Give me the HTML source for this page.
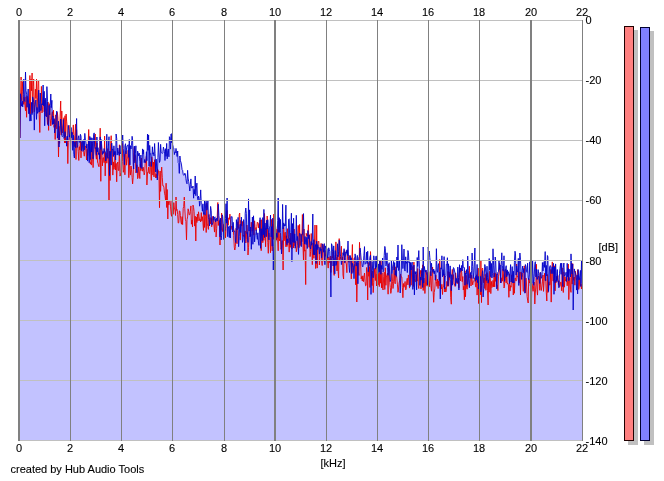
<!DOCTYPE html><html><head><meta charset="utf-8"><style>html,body{margin:0;padding:0;background:#fff;width:664px;height:481px;overflow:hidden}svg{display:block}</style></head><body><svg width="664" height="481" viewBox="0 0 664 481"><polygon points="19.5,441 19.5,138.0 20.0,138.0 20.5,93.8 21.1,99.8 21.6,106.2 22.2,101.1 22.7,106.9 23.3,94.6 23.8,79.1 24.4,100.3 24.9,101.6 25.5,72.0 26.0,90.7 26.6,94.3 27.1,107.3 27.7,97.0 28.2,89.0 28.8,113.7 29.3,103.7 29.9,121.1 30.4,114.2 31.0,120.9 31.5,102.4 32.1,114.6 32.6,96.9 33.2,98.4 33.7,102.7 34.3,130.1 34.8,107.2 35.4,101.7 35.9,100.1 36.5,119.4 37.0,107.4 37.6,113.4 38.1,111.7 38.7,90.1 39.2,112.1 39.8,103.3 40.3,93.0 40.9,110.7 41.4,105.7 42.0,103.7 42.5,104.8 43.1,85.0 43.6,105.7 44.2,91.3 44.7,125.8 45.3,98.2 45.8,107.4 46.4,116.9 46.9,86.6 47.5,101.6 48.0,125.0 48.6,126.0 49.1,105.4 49.7,114.9 50.2,105.4 50.8,94.0 51.3,107.7 51.9,100.3 52.4,124.5 53.0,115.9 53.5,123.9 54.1,118.6 54.6,133.0 55.2,127.7 55.7,124.7 56.3,115.0 56.8,111.0 57.4,138.1 57.9,134.0 58.5,121.2 59.0,147.0 59.6,133.5 60.1,130.9 60.7,119.0 61.2,125.2 61.8,135.7 62.3,136.7 62.9,135.9 63.4,119.5 63.9,138.3 64.5,137.5 65.0,131.7 65.6,136.4 66.1,137.3 66.7,146.2 67.2,136.0 67.8,140.3 68.3,125.3 68.9,130.4 69.4,137.0 70.0,134.7 70.5,140.4 71.1,127.5 71.6,137.7 72.2,132.4 72.7,150.3 73.3,135.0 73.8,154.5 74.4,158.0 74.9,141.9 75.5,147.6 76.0,137.8 76.6,118.5 77.1,147.5 77.7,145.7 78.2,138.2 78.8,135.7 79.3,142.1 79.9,142.5 80.4,134.3 81.0,136.2 81.5,150.7 82.1,142.1 82.6,141.2 83.2,151.4 83.7,139.5 84.3,149.9 84.8,133.4 85.4,140.7 85.9,141.8 86.5,148.2 87.0,144.1 87.6,161.1 88.1,153.5 88.7,140.3 89.2,162.7 89.8,136.4 90.3,159.6 90.9,137.6 91.4,152.1 92.0,137.9 92.5,143.8 93.1,158.9 93.6,134.3 94.2,132.9 94.7,146.5 95.3,148.5 95.8,147.7 96.4,155.2 96.9,137.0 97.5,151.8 98.0,147.7 98.6,154.5 99.1,153.2 99.7,159.2 100.2,136.9 100.8,149.5 101.3,139.6 101.9,148.1 102.4,154.5 103.0,151.3 103.5,153.4 104.1,148.5 104.6,151.9 105.2,151.4 105.7,161.0 106.3,156.0 106.8,134.2 107.3,154.9 107.9,158.4 108.4,146.1 109.0,136.7 109.5,175.6 110.1,151.2 110.6,155.0 111.2,165.1 111.7,143.0 112.3,149.8 112.8,149.1 113.4,156.5 113.9,145.8 114.5,154.7 115.0,151.3 115.6,160.0 116.1,134.0 116.7,138.5 117.2,155.1 117.8,148.0 118.3,151.1 118.9,154.9 119.4,155.6 120.0,145.5 120.5,154.0 121.1,152.8 121.6,151.3 122.2,141.1 122.7,135.0 123.3,148.5 123.8,157.2 124.4,164.7 124.9,146.0 125.5,143.7 126.0,153.9 126.6,147.8 127.1,145.7 127.7,145.4 128.2,144.7 128.8,157.4 129.3,139.5 129.9,164.9 130.4,145.6 131.0,149.0 131.5,145.5 132.1,136.3 132.6,139.9 133.2,164.0 133.7,169.0 134.3,146.0 134.8,162.8 135.4,153.6 135.9,145.8 136.5,168.6 137.0,172.8 137.6,151.1 138.1,153.1 138.7,155.8 139.2,153.1 139.8,161.4 140.3,167.4 140.9,155.0 141.4,167.7 142.0,168.6 142.5,148.9 143.1,154.1 143.6,149.8 144.2,162.6 144.7,159.5 145.3,162.7 145.8,161.6 146.4,151.7 146.9,160.7 147.5,134.0 148.0,150.4 148.6,134.9 149.1,166.3 149.7,145.4 150.2,154.3 150.7,153.6 151.3,166.5 151.8,157.5 152.4,146.8 152.9,154.1 153.5,152.7 154.0,155.9 154.6,143.5 155.1,153.5 155.7,171.9 156.2,159.1 156.8,169.6 157.3,180.0 157.9,157.6 158.4,142.5 159.0,152.8 159.5,162.5 160.1,160.6 160.6,144.3 161.2,151.9 161.7,152.7 162.3,153.5 162.8,152.8 163.4,147.1 163.9,149.0 164.5,151.4 165.0,160.5 165.6,148.7 166.1,156.4 166.7,143.4 167.2,158.9 167.8,150.5 168.3,149.0 168.9,156.8 169.4,136.7 170.0,137.9 170.5,149.1 171.1,134.0 171.6,142.7 172.2,133.0 172.7,144.7 173.3,147.5 173.8,148.0 174.4,154.6 174.9,151.9 175.5,152.6 176.0,148.4 176.6,153.4 177.1,156.5 177.7,151.0 178.2,162.7 178.8,163.7 179.3,173.4 179.9,156.0 180.4,160.8 181.0,162.3 181.5,165.0 182.1,169.6 182.6,170.2 183.2,174.3 183.7,175.3 184.3,175.0 184.8,173.2 185.4,174.1 185.9,178.6 186.5,182.7 187.0,183.8 187.6,170.3 188.1,178.1 188.7,181.7 189.2,185.2 189.8,191.0 190.3,184.7 190.9,178.9 191.4,187.9 192.0,187.3 192.5,187.8 193.0,186.0 193.6,198.2 194.1,189.4 194.7,194.1 195.2,176.0 195.8,195.7 196.3,188.0 196.9,183.1 197.4,196.7 198.0,199.9 198.5,196.1 199.1,198.7 199.6,206.2 200.2,198.5 200.7,189.9 201.3,204.6 201.8,205.2 202.4,211.2 202.9,203.8 203.5,214.2 204.0,214.2 204.6,200.5 205.1,214.8 205.7,203.3 206.2,201.2 206.8,210.2 207.3,209.1 207.9,200.4 208.4,217.5 209.0,219.5 209.5,225.9 210.1,216.7 210.6,206.4 211.2,210.4 211.7,224.9 212.3,224.6 212.8,222.2 213.4,216.2 213.9,220.4 214.5,217.3 215.0,216.8 215.6,222.0 216.1,220.1 216.7,218.2 217.2,221.0 217.8,216.1 218.3,204.2 218.9,215.7 219.4,220.7 220.0,236.9 220.5,218.2 221.1,240.0 221.6,235.4 222.2,214.8 222.7,216.5 223.3,224.7 223.8,239.5 224.4,227.3 224.9,230.5 225.5,218.6 226.0,203.7 226.6,223.1 227.1,198.0 227.7,236.7 228.2,226.5 228.8,228.0 229.3,237.5 229.9,225.8 230.4,238.0 231.0,216.5 231.5,216.9 232.1,216.7 232.6,232.0 233.2,222.3 233.7,228.8 234.3,231.5 234.8,231.1 235.4,241.0 235.9,242.7 236.4,219.6 237.0,229.9 237.5,225.7 238.1,217.4 238.6,246.7 239.2,236.7 239.7,226.4 240.3,224.1 240.8,232.6 241.4,217.1 241.9,226.2 242.5,242.4 243.0,239.3 243.6,219.6 244.1,223.5 244.7,251.0 245.2,213.3 245.8,208.0 246.3,213.2 246.9,233.5 247.4,232.5 248.0,242.4 248.5,198.9 249.1,231.1 249.6,209.9 250.2,236.8 250.7,227.0 251.3,249.3 251.8,233.7 252.4,217.0 252.9,244.3 253.5,215.8 254.0,227.7 254.6,241.9 255.1,235.2 255.7,234.7 256.2,229.6 256.8,235.7 257.3,239.4 257.9,232.8 258.4,242.0 259.0,245.4 259.5,229.6 260.1,217.7 260.6,248.3 261.2,228.7 261.7,236.8 262.3,240.7 262.8,217.6 263.4,234.6 263.9,209.4 264.5,237.6 265.0,223.0 265.6,230.4 266.1,236.7 266.7,220.2 267.2,229.1 267.8,219.7 268.3,227.5 268.9,239.9 269.4,227.9 270.0,225.9 270.5,215.0 271.1,237.0 271.6,226.6 272.2,246.2 272.7,218.2 273.3,270.0 273.8,246.6 274.4,226.1 274.9,212.5 275.5,242.7 276.0,237.5 276.6,233.3 277.1,237.5 277.7,220.3 278.2,198.0 278.8,232.4 279.3,217.7 279.8,232.4 280.4,219.4 280.9,235.2 281.5,253.9 282.0,245.4 282.6,204.4 283.1,229.0 283.7,222.9 284.2,226.3 284.8,224.4 285.3,225.8 285.9,205.1 286.4,238.6 287.0,244.8 287.5,238.8 288.1,242.8 288.6,219.4 289.2,218.8 289.7,239.3 290.3,244.5 290.8,232.9 291.4,213.2 291.9,261.6 292.5,223.6 293.0,242.2 293.6,218.2 294.1,242.8 294.7,233.9 295.2,248.2 295.8,242.4 296.3,215.3 296.9,240.7 297.4,236.5 298.0,242.2 298.5,254.4 299.1,237.2 299.6,233.2 300.2,234.1 300.7,234.5 301.3,246.7 301.8,234.7 302.4,234.7 302.9,228.9 303.5,213.6 304.0,236.7 304.6,244.1 305.1,236.5 305.7,242.9 306.2,244.6 306.8,237.3 307.3,248.5 307.9,230.5 308.4,238.6 309.0,235.0 309.5,240.1 310.1,246.3 310.6,249.0 311.2,241.5 311.7,245.2 312.3,237.0 312.8,214.0 313.4,254.7 313.9,239.7 314.5,254.9 315.0,247.5 315.6,244.5 316.1,263.5 316.7,241.2 317.2,249.7 317.8,244.6 318.3,247.7 318.9,247.6 319.4,254.1 320.0,247.3 320.5,250.5 321.1,248.9 321.6,257.8 322.2,243.8 322.7,245.4 323.2,248.8 323.8,252.3 324.3,243.6 324.9,264.7 325.4,245.9 326.0,248.5 326.5,248.8 327.1,248.7 327.6,258.1 328.2,255.2 328.7,247.8 329.3,249.5 329.8,251.4 330.4,265.7 330.9,297.0 331.5,243.7 332.0,245.1 332.6,251.5 333.1,266.0 333.7,245.9 334.2,254.7 334.8,273.9 335.3,250.6 335.9,265.5 336.4,264.0 337.0,258.8 337.5,243.8 338.1,256.8 338.6,251.8 339.2,240.3 339.7,241.6 340.3,255.0 340.8,256.4 341.4,264.6 341.9,260.6 342.5,260.9 343.0,252.7 343.6,255.3 344.1,248.7 344.7,262.8 345.2,257.6 345.8,251.8 346.3,253.3 346.9,249.8 347.4,255.4 348.0,241.0 348.5,256.3 349.1,267.2 349.6,272.5 350.2,255.5 350.7,260.6 351.3,257.8 351.8,273.7 352.4,263.3 352.9,265.3 353.5,267.5 354.0,278.7 354.6,263.6 355.1,253.9 355.7,258.1 356.2,266.1 356.8,261.5 357.3,255.4 357.9,283.8 358.4,262.7 359.0,257.4 359.5,256.4 360.1,248.1 360.6,252.8 361.2,259.7 361.7,259.9 362.3,266.3 362.8,267.0 363.4,263.0 363.9,255.3 364.5,246.6 365.0,264.3 365.6,263.5 366.1,261.6 366.6,252.1 367.2,263.7 367.7,251.2 368.3,271.8 368.8,265.3 369.4,265.6 369.9,257.3 370.5,255.2 371.0,294.4 371.6,272.2 372.1,261.5 372.7,270.2 373.2,277.8 373.8,255.8 374.3,260.6 374.9,261.5 375.4,269.2 376.0,256.2 376.5,267.4 377.1,255.8 377.6,273.6 378.2,273.2 378.7,263.9 379.3,272.1 379.8,260.0 380.4,263.7 380.9,274.3 381.5,265.5 382.0,269.3 382.6,258.0 383.1,271.9 383.7,270.2 384.2,255.5 384.8,246.4 385.3,248.5 385.9,265.9 386.4,264.5 387.0,252.8 387.5,267.7 388.1,275.3 388.6,265.6 389.2,262.6 389.7,274.1 390.3,281.5 390.8,279.7 391.4,260.8 391.9,273.7 392.5,268.2 393.0,265.0 393.6,261.4 394.1,270.0 394.7,262.6 395.2,275.1 395.8,270.4 396.3,276.4 396.9,257.0 397.4,267.5 398.0,245.0 398.5,270.5 399.1,269.4 399.6,261.1 400.2,293.0 400.7,276.9 401.3,270.9 401.8,244.7 402.4,258.9 402.9,268.6 403.5,261.2 404.0,249.0 404.6,269.9 405.1,271.1 405.7,256.8 406.2,263.4 406.8,261.8 407.3,272.6 407.9,250.5 408.4,252.4 409.0,262.9 409.5,261.9 410.0,286.6 410.6,262.4 411.1,270.0 411.7,264.3 412.2,262.1 412.8,289.4 413.3,283.9 413.9,265.1 414.4,294.9 415.0,271.5 415.5,274.1 416.1,271.7 416.6,289.8 417.2,257.5 417.7,266.4 418.3,258.5 418.8,250.6 419.4,268.6 419.9,285.4 420.5,277.1 421.0,280.1 421.6,273.6 422.1,268.3 422.7,287.5 423.2,247.0 423.8,283.1 424.3,266.4 424.9,270.2 425.4,272.1 426.0,270.0 426.5,274.3 427.1,275.0 427.6,285.0 428.2,247.0 428.7,252.4 429.3,251.1 429.8,257.3 430.4,263.0 430.9,275.9 431.5,263.2 432.0,270.2 432.6,270.4 433.1,272.5 433.7,269.0 434.2,273.9 434.8,270.7 435.3,280.1 435.9,273.5 436.4,248.7 437.0,270.7 437.5,272.3 438.1,265.2 438.6,263.6 439.2,280.6 439.7,272.2 440.3,299.0 440.8,267.8 441.4,269.2 441.9,255.8 442.5,276.8 443.0,269.7 443.6,275.4 444.1,256.6 444.7,289.0 445.2,277.0 445.8,275.7 446.3,264.5 446.9,265.1 447.4,257.7 448.0,285.7 448.5,263.8 449.1,273.7 449.6,277.3 450.2,265.9 450.7,279.7 451.3,290.7 451.8,274.6 452.3,285.2 452.9,277.2 453.4,267.6 454.0,268.2 454.5,271.0 455.1,273.0 455.6,285.7 456.2,278.3 456.7,279.9 457.3,282.7 457.8,267.1 458.4,277.4 458.9,290.0 459.5,264.7 460.0,272.4 460.6,268.0 461.1,270.3 461.7,265.4 462.2,271.0 462.8,259.7 463.3,267.4 463.9,267.7 464.4,267.6 465.0,285.2 465.5,273.0 466.1,273.9 466.6,269.6 467.2,284.4 467.7,256.1 468.3,270.6 468.8,283.0 469.4,287.7 469.9,274.3 470.5,272.5 471.0,278.4 471.6,270.8 472.1,253.0 472.7,266.5 473.2,278.6 473.8,272.1 474.3,262.5 474.9,248.0 475.4,281.3 476.0,276.2 476.5,279.7 477.1,264.4 477.6,282.7 478.2,276.4 478.7,289.0 479.3,281.1 479.8,281.0 480.4,276.4 480.9,291.8 481.5,285.6 482.0,275.9 482.6,270.6 483.1,297.0 483.7,288.8 484.2,276.4 484.8,264.5 485.3,266.8 485.9,272.8 486.4,280.5 487.0,266.2 487.5,277.6 488.1,283.2 488.6,279.8 489.2,258.5 489.7,270.1 490.3,261.3 490.8,276.8 491.4,263.4 491.9,278.0 492.5,273.8 493.0,248.8 493.6,265.1 494.1,277.1 494.7,273.2 495.2,257.0 495.7,261.0 496.3,277.0 496.8,288.9 497.4,275.1 497.9,272.3 498.5,271.5 499.0,260.1 499.6,269.5 500.1,264.9 500.7,283.0 501.2,264.4 501.8,252.8 502.3,265.3 502.9,270.2 503.4,271.2 504.0,255.8 504.5,281.4 505.1,273.7 505.6,268.4 506.2,265.7 506.7,276.9 507.3,269.9 507.8,275.4 508.4,271.7 508.9,274.1 509.5,283.6 510.0,273.0 510.6,264.6 511.1,282.0 511.7,275.2 512.2,266.6 512.8,283.0 513.3,271.2 513.9,283.0 514.4,262.3 515.0,251.2 515.5,253.9 516.1,275.1 516.6,266.0 517.2,271.9 517.7,272.0 518.3,258.4 518.8,285.5 519.4,263.0 519.9,253.0 520.5,259.7 521.0,271.2 521.6,279.4 522.1,270.4 522.7,266.0 523.2,272.7 523.8,268.4 524.3,277.9 524.9,293.2 525.4,264.5 526.0,266.4 526.5,271.6 527.1,272.4 527.6,263.2 528.2,277.3 528.7,279.7 529.3,274.8 529.8,261.8 530.4,286.1 530.9,261.7 531.5,279.0 532.0,283.4 532.6,261.1 533.1,273.9 533.7,285.3 534.2,276.4 534.8,264.2 535.3,261.7 535.9,277.0 536.4,269.2 537.0,279.5 537.5,279.1 538.1,269.6 538.6,273.3 539.1,278.1 539.7,283.5 540.2,272.4 540.8,272.7 541.3,278.3 541.9,277.0 542.4,262.5 543.0,271.0 543.5,264.6 544.1,261.6 544.6,267.4 545.2,251.6 545.7,280.8 546.3,265.4 546.8,276.0 547.4,255.5 547.9,256.9 548.5,291.5 549.0,282.2 549.6,266.7 550.1,265.5 550.7,266.0 551.2,273.7 551.8,268.7 552.3,266.8 552.9,273.7 553.4,263.3 554.0,294.3 554.5,267.0 555.1,282.8 555.6,263.9 556.2,275.2 556.7,281.4 557.3,269.5 557.8,281.6 558.4,281.6 558.9,287.8 559.5,273.3 560.0,268.3 560.6,263.3 561.1,274.3 561.7,263.1 562.2,272.8 562.8,286.6 563.3,267.6 563.9,263.0 564.4,276.2 565.0,275.3 565.5,274.5 566.1,272.2 566.6,281.5 567.2,263.3 567.7,276.8 568.3,268.6 568.8,280.8 569.4,269.6 569.9,269.3 570.5,277.0 571.0,253.9 571.6,269.5 572.1,274.1 572.7,263.9 573.2,310.0 573.8,278.8 574.3,268.9 574.9,272.4 575.4,272.5 576.0,275.7 576.5,290.1 577.1,275.1 577.6,293.9 578.2,269.5 578.7,279.9 579.3,279.8 579.8,275.1 580.4,270.4 580.9,286.5 581.5,261.0 582.0,283.1 583.0,441" fill="#c2c2ff" stroke="none"/><polyline points="20.0,138.0 20.5,99.7 21.1,77.0 21.6,100.7 22.2,91.5 22.7,81.5 23.3,104.4 23.8,97.2 24.4,101.3 24.9,105.6 25.5,110.8 26.0,96.8 26.6,117.3 27.1,96.3 27.7,97.4 28.2,105.3 28.8,109.6 29.3,114.1 29.9,75.5 30.4,113.9 31.0,79.1 31.5,90.7 32.1,73.0 32.6,112.8 33.2,86.7 33.7,79.0 34.3,111.8 34.8,104.8 35.4,89.2 35.9,98.4 36.5,79.2 37.0,110.4 37.6,97.9 38.1,81.0 38.7,80.9 39.2,114.7 39.8,132.5 40.3,108.8 40.9,109.5 41.4,86.4 42.0,112.9 42.5,109.7 43.1,103.4 43.6,92.8 44.2,111.9 44.7,100.1 45.3,106.5 45.8,116.1 46.4,112.5 46.9,113.6 47.5,124.4 48.0,101.9 48.6,130.4 49.1,103.6 49.7,106.6 50.2,118.2 50.8,125.9 51.3,120.8 51.9,114.0 52.4,111.7 53.0,117.1 53.5,110.2 54.1,127.4 54.6,119.5 55.2,139.5 55.7,114.9 56.3,122.1 56.8,128.9 57.4,112.3 57.9,118.0 58.5,157.0 59.0,126.3 59.6,143.4 60.1,116.2 60.7,101.0 61.2,134.9 61.8,111.0 62.3,133.0 62.9,126.9 63.4,124.1 63.9,117.7 64.5,142.8 65.0,115.7 65.6,143.0 66.1,114.0 66.7,121.8 67.2,127.0 67.8,163.6 68.3,142.6 68.9,140.6 69.4,136.8 70.0,125.2 70.5,150.2 71.1,133.1 71.6,132.1 72.2,133.1 72.7,134.5 73.3,124.9 73.8,135.3 74.4,146.6 74.9,135.6 75.5,124.3 76.0,159.5 76.6,129.6 77.1,144.5 77.7,144.9 78.2,151.7 78.8,160.5 79.3,146.7 79.9,149.9 80.4,138.9 81.0,157.9 81.5,145.3 82.1,141.8 82.6,147.0 83.2,151.7 83.7,152.7 84.3,156.2 84.8,150.9 85.4,145.9 85.9,147.9 86.5,160.0 87.0,149.3 87.6,155.6 88.1,145.7 88.7,129.5 89.2,141.7 89.8,151.0 90.3,164.0 90.9,162.2 91.4,165.1 92.0,142.0 92.5,156.7 93.1,167.6 93.6,155.9 94.2,149.2 94.7,136.7 95.3,134.0 95.8,154.3 96.4,159.2 96.9,143.0 97.5,162.0 98.0,163.4 98.6,166.3 99.1,166.8 99.7,148.4 100.2,128.2 100.8,181.3 101.3,144.5 101.9,151.8 102.4,165.9 103.0,157.8 103.5,157.7 104.1,162.7 104.6,136.1 105.2,175.9 105.7,152.6 106.3,153.4 106.8,163.2 107.3,155.9 107.9,148.6 108.4,156.5 109.0,200.0 109.5,151.4 110.1,180.5 110.6,143.8 111.2,135.7 111.7,149.6 112.3,149.6 112.8,175.1 113.4,161.9 113.9,169.4 114.5,167.3 115.0,151.6 115.6,170.0 116.1,163.4 116.7,181.8 117.2,164.2 117.8,162.0 118.3,170.3 118.9,170.7 119.4,144.8 120.0,176.1 120.5,174.7 121.1,172.5 121.6,152.4 122.2,143.4 122.7,161.4 123.3,172.3 123.8,169.5 124.4,154.4 124.9,174.8 125.5,150.7 126.0,151.2 126.6,165.2 127.1,159.4 127.7,158.5 128.2,150.2 128.8,177.7 129.3,154.4 129.9,170.9 130.4,175.1 131.0,166.0 131.5,169.4 132.1,177.5 132.6,183.9 133.2,177.1 133.7,152.3 134.3,147.2 134.8,160.8 135.4,155.4 135.9,172.9 136.5,168.4 137.0,164.8 137.6,178.7 138.1,177.8 138.7,166.9 139.2,171.1 139.8,178.6 140.3,164.2 140.9,170.7 141.4,158.0 142.0,168.2 142.5,171.2 143.1,167.1 143.6,170.0 144.2,174.9 144.7,172.4 145.3,161.3 145.8,162.3 146.4,156.2 146.9,185.0 147.5,172.5 148.0,172.8 148.6,167.2 149.1,173.2 149.7,173.8 150.2,161.7 150.7,167.5 151.3,180.3 151.8,156.9 152.4,160.3 152.9,175.1 153.5,162.1 154.0,176.9 154.6,159.7 155.1,172.3 155.7,177.9 156.2,174.0 156.8,177.8 157.3,169.1 157.9,169.4 158.4,170.8 159.0,176.4 159.5,207.7 160.1,171.0 160.6,191.4 161.2,173.6 161.7,167.1 162.3,177.3 162.8,185.7 163.4,185.7 163.9,187.2 164.5,193.2 165.0,195.5 165.6,200.6 166.1,183.2 166.7,207.5 167.2,189.5 167.8,219.0 168.3,201.3 168.9,204.8 169.4,201.2 170.0,200.0 170.5,206.2 171.1,214.3 171.6,216.3 172.2,201.0 172.7,214.0 173.3,214.2 173.8,202.6 174.4,209.0 174.9,209.1 175.5,215.5 176.0,197.0 176.6,210.4 177.1,209.5 177.7,214.5 178.2,223.1 178.8,222.7 179.3,210.9 179.9,211.1 180.4,215.6 181.0,222.2 181.5,224.2 182.1,216.6 182.6,224.6 183.2,208.3 183.7,206.6 184.3,197.1 184.8,208.8 185.4,219.3 185.9,221.4 186.5,239.9 187.0,219.7 187.6,216.9 188.1,208.8 188.7,211.5 189.2,214.9 189.8,214.6 190.3,211.5 190.9,205.9 191.4,224.2 192.0,220.0 192.5,226.9 193.0,205.1 193.6,207.5 194.1,211.6 194.7,226.1 195.2,216.1 195.8,241.0 196.3,217.1 196.9,222.5 197.4,214.0 198.0,221.0 198.5,211.8 199.1,216.5 199.6,220.6 200.2,219.4 200.7,222.0 201.3,212.6 201.8,220.9 202.4,216.7 202.9,222.1 203.5,230.5 204.0,212.4 204.6,227.5 205.1,214.3 205.7,216.4 206.2,232.5 206.8,203.0 207.3,224.0 207.9,226.5 208.4,229.4 209.0,214.5 209.5,222.3 210.1,217.5 210.6,224.0 211.2,218.3 211.7,226.8 212.3,221.2 212.8,216.4 213.4,220.8 213.9,224.9 214.5,232.1 215.0,220.2 215.6,219.0 216.1,237.0 216.7,228.5 217.2,218.1 217.8,202.5 218.3,225.5 218.9,220.5 219.4,220.5 220.0,245.0 220.5,223.1 221.1,230.2 221.6,213.1 222.2,227.0 222.7,231.6 223.3,227.2 223.8,224.2 224.4,230.6 224.9,226.6 225.5,237.8 226.0,228.5 226.6,220.3 227.1,210.4 227.7,221.4 228.2,225.3 228.8,217.8 229.3,219.4 229.9,214.1 230.4,219.2 231.0,229.6 231.5,226.4 232.1,227.2 232.6,226.1 233.2,227.1 233.7,235.7 234.3,247.2 234.8,250.0 235.4,246.7 235.9,228.5 236.4,229.1 237.0,243.8 237.5,223.2 238.1,221.7 238.6,228.5 239.2,214.8 239.7,213.0 240.3,240.1 240.8,220.4 241.4,225.8 241.9,226.0 242.5,221.5 243.0,236.2 243.6,235.1 244.1,237.2 244.7,236.7 245.2,230.9 245.8,243.0 246.3,239.5 246.9,225.0 247.4,230.9 248.0,255.0 248.5,247.3 249.1,237.4 249.6,235.4 250.2,230.2 250.7,235.8 251.3,222.2 251.8,231.2 252.4,230.6 252.9,230.7 253.5,224.4 254.0,235.2 254.6,220.8 255.1,226.8 255.7,229.7 256.2,230.7 256.8,226.4 257.3,222.0 257.9,222.7 258.4,227.9 259.0,223.4 259.5,230.4 260.1,220.0 260.6,231.9 261.2,250.7 261.7,219.7 262.3,231.0 262.8,242.7 263.4,234.0 263.9,240.3 264.5,213.5 265.0,228.1 265.6,246.8 266.1,228.0 266.7,236.5 267.2,216.0 267.8,242.6 268.3,253.3 268.9,232.9 269.4,236.7 270.0,237.4 270.5,252.7 271.1,230.2 271.6,219.4 272.2,250.9 272.7,224.1 273.3,239.4 273.8,214.1 274.4,230.9 274.9,236.4 275.5,225.3 276.0,230.5 276.6,240.2 277.1,229.2 277.7,239.8 278.2,250.8 278.8,218.3 279.3,238.7 279.8,241.0 280.4,233.1 280.9,249.3 281.5,247.7 282.0,240.6 282.6,240.8 283.1,270.0 283.7,227.3 284.2,240.8 284.8,232.8 285.3,232.1 285.9,246.8 286.4,235.8 287.0,246.5 287.5,228.7 288.1,234.4 288.6,238.8 289.2,252.1 289.7,238.4 290.3,247.4 290.8,233.0 291.4,241.6 291.9,249.1 292.5,231.2 293.0,233.6 293.6,248.0 294.1,229.0 294.7,245.5 295.2,246.0 295.8,241.3 296.3,251.8 296.9,248.6 297.4,245.6 298.0,225.3 298.5,225.7 299.1,247.7 299.6,224.4 300.2,245.6 300.7,240.3 301.3,233.9 301.8,241.6 302.4,214.5 302.9,242.4 303.5,261.0 304.0,229.0 304.6,251.2 305.1,249.9 305.7,284.6 306.2,233.3 306.8,235.8 307.3,236.1 307.9,233.9 308.4,224.8 309.0,247.3 309.5,234.7 310.1,256.6 310.6,251.6 311.2,233.5 311.7,242.2 312.3,264.7 312.8,242.8 313.4,250.0 313.9,258.3 314.5,242.2 315.0,225.0 315.6,268.5 316.1,262.6 316.7,225.2 317.2,268.1 317.8,245.5 318.3,241.0 318.9,241.6 319.4,265.0 320.0,254.6 320.5,249.9 321.1,243.4 321.6,259.7 322.2,265.5 322.7,244.3 323.2,244.4 323.8,252.2 324.3,261.5 324.9,253.5 325.4,256.3 326.0,250.4 326.5,268.3 327.1,257.0 327.6,259.6 328.2,268.1 328.7,256.9 329.3,258.7 329.8,262.9 330.4,256.0 330.9,272.5 331.5,260.5 332.0,256.4 332.6,257.9 333.1,250.9 333.7,272.2 334.2,275.4 334.8,259.3 335.3,257.5 335.9,241.9 336.4,256.4 337.0,271.0 337.5,255.0 338.1,271.4 338.6,278.0 339.2,238.6 339.7,260.6 340.3,256.9 340.8,258.6 341.4,246.2 341.9,261.6 342.5,257.2 343.0,275.1 343.6,279.0 344.1,250.6 344.7,250.2 345.2,260.1 345.8,263.1 346.3,263.9 346.9,272.7 347.4,250.2 348.0,259.3 348.5,261.0 349.1,262.4 349.6,255.6 350.2,261.3 350.7,259.0 351.3,278.9 351.8,261.7 352.4,244.5 352.9,272.6 353.5,268.7 354.0,258.2 354.6,257.7 355.1,261.3 355.7,284.8 356.2,262.8 356.8,302.0 357.3,277.0 357.9,262.7 358.4,271.7 359.0,275.5 359.5,242.3 360.1,260.8 360.6,261.7 361.2,278.9 361.7,276.5 362.3,281.0 362.8,275.8 363.4,281.7 363.9,277.5 364.5,273.1 365.0,281.4 365.6,285.8 366.1,285.4 366.6,267.5 367.2,271.6 367.7,300.0 368.3,262.4 368.8,276.3 369.4,266.7 369.9,287.5 370.5,251.6 371.0,262.5 371.6,276.3 372.1,285.6 372.7,271.1 373.2,292.6 373.8,282.5 374.3,268.4 374.9,275.0 375.4,280.5 376.0,267.4 376.5,286.0 377.1,274.1 377.6,281.5 378.2,284.8 378.7,273.3 379.3,286.6 379.8,261.0 380.4,283.2 380.9,260.4 381.5,287.8 382.0,272.7 382.6,288.7 383.1,290.0 383.7,276.7 384.2,272.2 384.8,289.5 385.3,267.8 385.9,285.3 386.4,277.1 387.0,274.9 387.5,273.1 388.1,294.2 388.6,264.1 389.2,273.4 389.7,282.2 390.3,287.5 390.8,293.4 391.4,290.5 391.9,273.7 392.5,281.5 393.0,288.5 393.6,283.2 394.1,264.9 394.7,281.5 395.2,283.8 395.8,266.8 396.3,274.7 396.9,278.3 397.4,284.1 398.0,292.3 398.5,289.0 399.1,283.0 399.6,280.8 400.2,275.8 400.7,274.1 401.3,277.0 401.8,277.0 402.4,287.7 402.9,297.7 403.5,283.5 404.0,287.3 404.6,284.7 405.1,281.5 405.7,289.9 406.2,288.8 406.8,280.0 407.3,278.2 407.9,284.9 408.4,274.9 409.0,281.1 409.5,288.1 410.0,278.9 410.6,263.0 411.1,285.2 411.7,269.3 412.2,267.5 412.8,266.5 413.3,286.5 413.9,262.1 414.4,278.5 415.0,281.7 415.5,281.5 416.1,274.4 416.6,279.1 417.2,281.1 417.7,268.6 418.3,285.8 418.8,288.6 419.4,272.9 419.9,273.7 420.5,270.4 421.0,288.9 421.6,270.5 422.1,275.7 422.7,264.8 423.2,290.5 423.8,278.0 424.3,282.3 424.9,293.5 425.4,286.0 426.0,270.4 426.5,284.0 427.1,286.2 427.6,272.7 428.2,271.7 428.7,271.7 429.3,286.8 429.8,280.6 430.4,271.4 430.9,285.7 431.5,291.2 432.0,273.2 432.6,267.0 433.1,290.0 433.7,302.3 434.2,292.6 434.8,288.9 435.3,281.5 435.9,275.2 436.4,281.7 437.0,286.4 437.5,279.2 438.1,288.6 438.6,280.9 439.2,285.9 439.7,259.4 440.3,273.7 440.8,287.6 441.4,289.0 441.9,284.3 442.5,294.5 443.0,286.8 443.6,286.9 444.1,274.2 444.7,292.0 445.2,287.4 445.8,292.0 446.3,290.7 446.9,281.4 447.4,286.3 448.0,271.4 448.5,286.2 449.1,272.1 449.6,278.8 450.2,281.0 450.7,297.7 451.3,304.2 451.8,274.8 452.3,269.4 452.9,279.3 453.4,274.6 454.0,284.4 454.5,284.1 455.1,286.5 455.6,272.9 456.2,278.1 456.7,283.0 457.3,283.7 457.8,280.4 458.4,278.3 458.9,287.9 459.5,266.7 460.0,278.9 460.6,280.9 461.1,268.7 461.7,272.5 462.2,281.7 462.8,276.5 463.3,289.9 463.9,286.3 464.4,299.8 465.0,270.8 465.5,296.8 466.1,275.3 466.6,287.9 467.2,289.2 467.7,282.6 468.3,278.8 468.8,275.9 469.4,266.2 469.9,278.0 470.5,273.7 471.0,286.0 471.6,275.1 472.1,279.7 472.7,284.9 473.2,281.8 473.8,281.5 474.3,279.4 474.9,277.7 475.4,285.2 476.0,287.2 476.5,274.8 477.1,295.1 477.6,286.2 478.2,268.1 478.7,303.6 479.3,286.8 479.8,275.3 480.4,294.8 480.9,260.0 481.5,302.6 482.0,269.0 482.6,268.0 483.1,273.4 483.7,282.8 484.2,278.0 484.8,288.5 485.3,274.3 485.9,290.3 486.4,283.3 487.0,272.7 487.5,290.3 488.1,305.0 488.6,279.6 489.2,292.2 489.7,271.3 490.3,278.2 490.8,293.6 491.4,281.4 491.9,287.5 492.5,286.5 493.0,280.4 493.6,286.9 494.1,273.0 494.7,286.9 495.2,272.8 495.7,281.4 496.3,273.9 496.8,285.5 497.4,285.2 497.9,290.6 498.5,276.2 499.0,273.2 499.6,263.3 500.1,270.2 500.7,278.9 501.2,282.8 501.8,277.8 502.3,281.2 502.9,268.8 503.4,273.1 504.0,288.0 504.5,286.7 505.1,269.6 505.6,278.4 506.2,282.9 506.7,271.1 507.3,284.2 507.8,283.3 508.4,284.8 508.9,297.3 509.5,273.8 510.0,291.1 510.6,285.7 511.1,287.2 511.7,274.9 512.2,281.6 512.8,280.9 513.3,295.0 513.9,281.7 514.4,293.3 515.0,278.4 515.5,277.9 516.1,281.1 516.6,264.0 517.2,276.6 517.7,276.0 518.3,279.8 518.8,282.6 519.4,283.0 519.9,271.8 520.5,295.0 521.0,272.2 521.6,276.7 522.1,273.0 522.7,277.1 523.2,291.4 523.8,290.8 524.3,265.8 524.9,278.9 525.4,292.8 526.0,278.1 526.5,284.0 527.1,296.4 527.6,300.1 528.2,303.0 528.7,278.7 529.3,281.4 529.8,283.1 530.4,278.6 530.9,276.0 531.5,298.5 532.0,283.5 532.6,287.9 533.1,291.3 533.7,285.6 534.2,282.0 534.8,304.0 535.3,293.1 535.9,285.0 536.4,264.2 537.0,289.8 537.5,295.1 538.1,278.7 538.6,276.0 539.1,277.1 539.7,290.3 540.2,272.7 540.8,287.5 541.3,290.5 541.9,286.1 542.4,281.9 543.0,275.0 543.5,291.4 544.1,281.2 544.6,273.2 545.2,280.3 545.7,279.0 546.3,292.7 546.8,301.0 547.4,274.5 547.9,292.6 548.5,283.5 549.0,281.8 549.6,285.1 550.1,284.8 550.7,269.4 551.2,302.1 551.8,273.6 552.3,261.9 552.9,280.8 553.4,281.2 554.0,274.9 554.5,265.8 555.1,290.9 555.6,280.3 556.2,282.6 556.7,276.3 557.3,279.7 557.8,275.5 558.4,284.5 558.9,280.6 559.5,286.6 560.0,286.5 560.6,282.2 561.1,282.2 561.7,290.8 562.2,267.9 562.8,282.1 563.3,292.5 563.9,271.8 564.4,287.2 565.0,276.8 565.5,281.1 566.1,278.9 566.6,279.6 567.2,285.8 567.7,280.7 568.3,264.1 568.8,299.6 569.4,280.5 569.9,277.4 570.5,289.8 571.0,292.4 571.6,263.0 572.1,284.1 572.7,263.7 573.2,276.5 573.8,280.4 574.3,277.0 574.9,285.2 575.4,271.2 576.0,277.4 576.5,279.8 577.1,279.5 577.6,269.7 578.2,274.2 578.7,289.4 579.3,286.3 579.8,278.2 580.4,286.2 580.9,284.1 581.5,289.0 582.0,283.2" fill="none" stroke="#e80000" stroke-width="0.9" stroke-linejoin="bevel"/><polyline points="20.0,138.0 20.5,93.8 21.1,99.8 21.6,106.2 22.2,101.1 22.7,106.9 23.3,94.6 23.8,79.1 24.4,100.3 24.9,101.6 25.5,72.0 26.0,90.7 26.6,94.3 27.1,107.3 27.7,97.0 28.2,89.0 28.8,113.7 29.3,103.7 29.9,121.1 30.4,114.2 31.0,120.9 31.5,102.4 32.1,114.6 32.6,96.9 33.2,98.4 33.7,102.7 34.3,130.1 34.8,107.2 35.4,101.7 35.9,100.1 36.5,119.4 37.0,107.4 37.6,113.4 38.1,111.7 38.7,90.1 39.2,112.1 39.8,103.3 40.3,93.0 40.9,110.7 41.4,105.7 42.0,103.7 42.5,104.8 43.1,85.0 43.6,105.7 44.2,91.3 44.7,125.8 45.3,98.2 45.8,107.4 46.4,116.9 46.9,86.6 47.5,101.6 48.0,125.0 48.6,126.0 49.1,105.4 49.7,114.9 50.2,105.4 50.8,94.0 51.3,107.7 51.9,100.3 52.4,124.5 53.0,115.9 53.5,123.9 54.1,118.6 54.6,133.0 55.2,127.7 55.7,124.7 56.3,115.0 56.8,111.0 57.4,138.1 57.9,134.0 58.5,121.2 59.0,147.0 59.6,133.5 60.1,130.9 60.7,119.0 61.2,125.2 61.8,135.7 62.3,136.7 62.9,135.9 63.4,119.5 63.9,138.3 64.5,137.5 65.0,131.7 65.6,136.4 66.1,137.3 66.7,146.2 67.2,136.0 67.8,140.3 68.3,125.3 68.9,130.4 69.4,137.0 70.0,134.7 70.5,140.4 71.1,127.5 71.6,137.7 72.2,132.4 72.7,150.3 73.3,135.0 73.8,154.5 74.4,158.0 74.9,141.9 75.5,147.6 76.0,137.8 76.6,118.5 77.1,147.5 77.7,145.7 78.2,138.2 78.8,135.7 79.3,142.1 79.9,142.5 80.4,134.3 81.0,136.2 81.5,150.7 82.1,142.1 82.6,141.2 83.2,151.4 83.7,139.5 84.3,149.9 84.8,133.4 85.4,140.7 85.9,141.8 86.5,148.2 87.0,144.1 87.6,161.1 88.1,153.5 88.7,140.3 89.2,162.7 89.8,136.4 90.3,159.6 90.9,137.6 91.4,152.1 92.0,137.9 92.5,143.8 93.1,158.9 93.6,134.3 94.2,132.9 94.7,146.5 95.3,148.5 95.8,147.7 96.4,155.2 96.9,137.0 97.5,151.8 98.0,147.7 98.6,154.5 99.1,153.2 99.7,159.2 100.2,136.9 100.8,149.5 101.3,139.6 101.9,148.1 102.4,154.5 103.0,151.3 103.5,153.4 104.1,148.5 104.6,151.9 105.2,151.4 105.7,161.0 106.3,156.0 106.8,134.2 107.3,154.9 107.9,158.4 108.4,146.1 109.0,136.7 109.5,175.6 110.1,151.2 110.6,155.0 111.2,165.1 111.7,143.0 112.3,149.8 112.8,149.1 113.4,156.5 113.9,145.8 114.5,154.7 115.0,151.3 115.6,160.0 116.1,134.0 116.7,138.5 117.2,155.1 117.8,148.0 118.3,151.1 118.9,154.9 119.4,155.6 120.0,145.5 120.5,154.0 121.1,152.8 121.6,151.3 122.2,141.1 122.7,135.0 123.3,148.5 123.8,157.2 124.4,164.7 124.9,146.0 125.5,143.7 126.0,153.9 126.6,147.8 127.1,145.7 127.7,145.4 128.2,144.7 128.8,157.4 129.3,139.5 129.9,164.9 130.4,145.6 131.0,149.0 131.5,145.5 132.1,136.3 132.6,139.9 133.2,164.0 133.7,169.0 134.3,146.0 134.8,162.8 135.4,153.6 135.9,145.8 136.5,168.6 137.0,172.8 137.6,151.1 138.1,153.1 138.7,155.8 139.2,153.1 139.8,161.4 140.3,167.4 140.9,155.0 141.4,167.7 142.0,168.6 142.5,148.9 143.1,154.1 143.6,149.8 144.2,162.6 144.7,159.5 145.3,162.7 145.8,161.6 146.4,151.7 146.9,160.7 147.5,134.0 148.0,150.4 148.6,134.9 149.1,166.3 149.7,145.4 150.2,154.3 150.7,153.6 151.3,166.5 151.8,157.5 152.4,146.8 152.9,154.1 153.5,152.7 154.0,155.9 154.6,143.5 155.1,153.5 155.7,171.9 156.2,159.1 156.8,169.6 157.3,180.0 157.9,157.6 158.4,142.5 159.0,152.8 159.5,162.5 160.1,160.6 160.6,144.3 161.2,151.9 161.7,152.7 162.3,153.5 162.8,152.8 163.4,147.1 163.9,149.0 164.5,151.4 165.0,160.5 165.6,148.7 166.1,156.4 166.7,143.4 167.2,158.9 167.8,150.5 168.3,149.0 168.9,156.8 169.4,136.7 170.0,137.9 170.5,149.1 171.1,134.0 171.6,142.7 172.2,133.0 172.7,144.7 173.3,147.5 173.8,148.0 174.4,154.6 174.9,151.9 175.5,152.6 176.0,148.4 176.6,153.4 177.1,156.5 177.7,151.0 178.2,162.7 178.8,163.7 179.3,173.4 179.9,156.0 180.4,160.8 181.0,162.3 181.5,165.0 182.1,169.6 182.6,170.2 183.2,174.3 183.7,175.3 184.3,175.0 184.8,173.2 185.4,174.1 185.9,178.6 186.5,182.7 187.0,183.8 187.6,170.3 188.1,178.1 188.7,181.7 189.2,185.2 189.8,191.0 190.3,184.7 190.9,178.9 191.4,187.9 192.0,187.3 192.5,187.8 193.0,186.0 193.6,198.2 194.1,189.4 194.7,194.1 195.2,176.0 195.8,195.7 196.3,188.0 196.9,183.1 197.4,196.7 198.0,199.9 198.5,196.1 199.1,198.7 199.6,206.2 200.2,198.5 200.7,189.9 201.3,204.6 201.8,205.2 202.4,211.2 202.9,203.8 203.5,214.2 204.0,214.2 204.6,200.5 205.1,214.8 205.7,203.3 206.2,201.2 206.8,210.2 207.3,209.1 207.9,200.4 208.4,217.5 209.0,219.5 209.5,225.9 210.1,216.7 210.6,206.4 211.2,210.4 211.7,224.9 212.3,224.6 212.8,222.2 213.4,216.2 213.9,220.4 214.5,217.3 215.0,216.8 215.6,222.0 216.1,220.1 216.7,218.2 217.2,221.0 217.8,216.1 218.3,204.2 218.9,215.7 219.4,220.7 220.0,236.9 220.5,218.2 221.1,240.0 221.6,235.4 222.2,214.8 222.7,216.5 223.3,224.7 223.8,239.5 224.4,227.3 224.9,230.5 225.5,218.6 226.0,203.7 226.6,223.1 227.1,198.0 227.7,236.7 228.2,226.5 228.8,228.0 229.3,237.5 229.9,225.8 230.4,238.0 231.0,216.5 231.5,216.9 232.1,216.7 232.6,232.0 233.2,222.3 233.7,228.8 234.3,231.5 234.8,231.1 235.4,241.0 235.9,242.7 236.4,219.6 237.0,229.9 237.5,225.7 238.1,217.4 238.6,246.7 239.2,236.7 239.7,226.4 240.3,224.1 240.8,232.6 241.4,217.1 241.9,226.2 242.5,242.4 243.0,239.3 243.6,219.6 244.1,223.5 244.7,251.0 245.2,213.3 245.8,208.0 246.3,213.2 246.9,233.5 247.4,232.5 248.0,242.4 248.5,198.9 249.1,231.1 249.6,209.9 250.2,236.8 250.7,227.0 251.3,249.3 251.8,233.7 252.4,217.0 252.9,244.3 253.5,215.8 254.0,227.7 254.6,241.9 255.1,235.2 255.7,234.7 256.2,229.6 256.8,235.7 257.3,239.4 257.9,232.8 258.4,242.0 259.0,245.4 259.5,229.6 260.1,217.7 260.6,248.3 261.2,228.7 261.7,236.8 262.3,240.7 262.8,217.6 263.4,234.6 263.9,209.4 264.5,237.6 265.0,223.0 265.6,230.4 266.1,236.7 266.7,220.2 267.2,229.1 267.8,219.7 268.3,227.5 268.9,239.9 269.4,227.9 270.0,225.9 270.5,215.0 271.1,237.0 271.6,226.6 272.2,246.2 272.7,218.2 273.3,270.0 273.8,246.6 274.4,226.1 274.9,212.5 275.5,242.7 276.0,237.5 276.6,233.3 277.1,237.5 277.7,220.3 278.2,198.0 278.8,232.4 279.3,217.7 279.8,232.4 280.4,219.4 280.9,235.2 281.5,253.9 282.0,245.4 282.6,204.4 283.1,229.0 283.7,222.9 284.2,226.3 284.8,224.4 285.3,225.8 285.9,205.1 286.4,238.6 287.0,244.8 287.5,238.8 288.1,242.8 288.6,219.4 289.2,218.8 289.7,239.3 290.3,244.5 290.8,232.9 291.4,213.2 291.9,261.6 292.5,223.6 293.0,242.2 293.6,218.2 294.1,242.8 294.7,233.9 295.2,248.2 295.8,242.4 296.3,215.3 296.9,240.7 297.4,236.5 298.0,242.2 298.5,254.4 299.1,237.2 299.6,233.2 300.2,234.1 300.7,234.5 301.3,246.7 301.8,234.7 302.4,234.7 302.9,228.9 303.5,213.6 304.0,236.7 304.6,244.1 305.1,236.5 305.7,242.9 306.2,244.6 306.8,237.3 307.3,248.5 307.9,230.5 308.4,238.6 309.0,235.0 309.5,240.1 310.1,246.3 310.6,249.0 311.2,241.5 311.7,245.2 312.3,237.0 312.8,214.0 313.4,254.7 313.9,239.7 314.5,254.9 315.0,247.5 315.6,244.5 316.1,263.5 316.7,241.2 317.2,249.7 317.8,244.6 318.3,247.7 318.9,247.6 319.4,254.1 320.0,247.3 320.5,250.5 321.1,248.9 321.6,257.8 322.2,243.8 322.7,245.4 323.2,248.8 323.8,252.3 324.3,243.6 324.9,264.7 325.4,245.9 326.0,248.5 326.5,248.8 327.1,248.7 327.6,258.1 328.2,255.2 328.7,247.8 329.3,249.5 329.8,251.4 330.4,265.7 330.9,297.0 331.5,243.7 332.0,245.1 332.6,251.5 333.1,266.0 333.7,245.9 334.2,254.7 334.8,273.9 335.3,250.6 335.9,265.5 336.4,264.0 337.0,258.8 337.5,243.8 338.1,256.8 338.6,251.8 339.2,240.3 339.7,241.6 340.3,255.0 340.8,256.4 341.4,264.6 341.9,260.6 342.5,260.9 343.0,252.7 343.6,255.3 344.1,248.7 344.7,262.8 345.2,257.6 345.8,251.8 346.3,253.3 346.9,249.8 347.4,255.4 348.0,241.0 348.5,256.3 349.1,267.2 349.6,272.5 350.2,255.5 350.7,260.6 351.3,257.8 351.8,273.7 352.4,263.3 352.9,265.3 353.5,267.5 354.0,278.7 354.6,263.6 355.1,253.9 355.7,258.1 356.2,266.1 356.8,261.5 357.3,255.4 357.9,283.8 358.4,262.7 359.0,257.4 359.5,256.4 360.1,248.1 360.6,252.8 361.2,259.7 361.7,259.9 362.3,266.3 362.8,267.0 363.4,263.0 363.9,255.3 364.5,246.6 365.0,264.3 365.6,263.5 366.1,261.6 366.6,252.1 367.2,263.7 367.7,251.2 368.3,271.8 368.8,265.3 369.4,265.6 369.9,257.3 370.5,255.2 371.0,294.4 371.6,272.2 372.1,261.5 372.7,270.2 373.2,277.8 373.8,255.8 374.3,260.6 374.9,261.5 375.4,269.2 376.0,256.2 376.5,267.4 377.1,255.8 377.6,273.6 378.2,273.2 378.7,263.9 379.3,272.1 379.8,260.0 380.4,263.7 380.9,274.3 381.5,265.5 382.0,269.3 382.6,258.0 383.1,271.9 383.7,270.2 384.2,255.5 384.8,246.4 385.3,248.5 385.9,265.9 386.4,264.5 387.0,252.8 387.5,267.7 388.1,275.3 388.6,265.6 389.2,262.6 389.7,274.1 390.3,281.5 390.8,279.7 391.4,260.8 391.9,273.7 392.5,268.2 393.0,265.0 393.6,261.4 394.1,270.0 394.7,262.6 395.2,275.1 395.8,270.4 396.3,276.4 396.9,257.0 397.4,267.5 398.0,245.0 398.5,270.5 399.1,269.4 399.6,261.1 400.2,293.0 400.7,276.9 401.3,270.9 401.8,244.7 402.4,258.9 402.9,268.6 403.5,261.2 404.0,249.0 404.6,269.9 405.1,271.1 405.7,256.8 406.2,263.4 406.8,261.8 407.3,272.6 407.9,250.5 408.4,252.4 409.0,262.9 409.5,261.9 410.0,286.6 410.6,262.4 411.1,270.0 411.7,264.3 412.2,262.1 412.8,289.4 413.3,283.9 413.9,265.1 414.4,294.9 415.0,271.5 415.5,274.1 416.1,271.7 416.6,289.8 417.2,257.5 417.7,266.4 418.3,258.5 418.8,250.6 419.4,268.6 419.9,285.4 420.5,277.1 421.0,280.1 421.6,273.6 422.1,268.3 422.7,287.5 423.2,247.0 423.8,283.1 424.3,266.4 424.9,270.2 425.4,272.1 426.0,270.0 426.5,274.3 427.1,275.0 427.6,285.0 428.2,247.0 428.7,252.4 429.3,251.1 429.8,257.3 430.4,263.0 430.9,275.9 431.5,263.2 432.0,270.2 432.6,270.4 433.1,272.5 433.7,269.0 434.2,273.9 434.8,270.7 435.3,280.1 435.9,273.5 436.4,248.7 437.0,270.7 437.5,272.3 438.1,265.2 438.6,263.6 439.2,280.6 439.7,272.2 440.3,299.0 440.8,267.8 441.4,269.2 441.9,255.8 442.5,276.8 443.0,269.7 443.6,275.4 444.1,256.6 444.7,289.0 445.2,277.0 445.8,275.7 446.3,264.5 446.9,265.1 447.4,257.7 448.0,285.7 448.5,263.8 449.1,273.7 449.6,277.3 450.2,265.9 450.7,279.7 451.3,290.7 451.8,274.6 452.3,285.2 452.9,277.2 453.4,267.6 454.0,268.2 454.5,271.0 455.1,273.0 455.6,285.7 456.2,278.3 456.7,279.9 457.3,282.7 457.8,267.1 458.4,277.4 458.9,290.0 459.5,264.7 460.0,272.4 460.6,268.0 461.1,270.3 461.7,265.4 462.2,271.0 462.8,259.7 463.3,267.4 463.9,267.7 464.4,267.6 465.0,285.2 465.5,273.0 466.1,273.9 466.6,269.6 467.2,284.4 467.7,256.1 468.3,270.6 468.8,283.0 469.4,287.7 469.9,274.3 470.5,272.5 471.0,278.4 471.6,270.8 472.1,253.0 472.7,266.5 473.2,278.6 473.8,272.1 474.3,262.5 474.9,248.0 475.4,281.3 476.0,276.2 476.5,279.7 477.1,264.4 477.6,282.7 478.2,276.4 478.7,289.0 479.3,281.1 479.8,281.0 480.4,276.4 480.9,291.8 481.5,285.6 482.0,275.9 482.6,270.6 483.1,297.0 483.7,288.8 484.2,276.4 484.8,264.5 485.3,266.8 485.9,272.8 486.4,280.5 487.0,266.2 487.5,277.6 488.1,283.2 488.6,279.8 489.2,258.5 489.7,270.1 490.3,261.3 490.8,276.8 491.4,263.4 491.9,278.0 492.5,273.8 493.0,248.8 493.6,265.1 494.1,277.1 494.7,273.2 495.2,257.0 495.7,261.0 496.3,277.0 496.8,288.9 497.4,275.1 497.9,272.3 498.5,271.5 499.0,260.1 499.6,269.5 500.1,264.9 500.7,283.0 501.2,264.4 501.8,252.8 502.3,265.3 502.9,270.2 503.4,271.2 504.0,255.8 504.5,281.4 505.1,273.7 505.6,268.4 506.2,265.7 506.7,276.9 507.3,269.9 507.8,275.4 508.4,271.7 508.9,274.1 509.5,283.6 510.0,273.0 510.6,264.6 511.1,282.0 511.7,275.2 512.2,266.6 512.8,283.0 513.3,271.2 513.9,283.0 514.4,262.3 515.0,251.2 515.5,253.9 516.1,275.1 516.6,266.0 517.2,271.9 517.7,272.0 518.3,258.4 518.8,285.5 519.4,263.0 519.9,253.0 520.5,259.7 521.0,271.2 521.6,279.4 522.1,270.4 522.7,266.0 523.2,272.7 523.8,268.4 524.3,277.9 524.9,293.2 525.4,264.5 526.0,266.4 526.5,271.6 527.1,272.4 527.6,263.2 528.2,277.3 528.7,279.7 529.3,274.8 529.8,261.8 530.4,286.1 530.9,261.7 531.5,279.0 532.0,283.4 532.6,261.1 533.1,273.9 533.7,285.3 534.2,276.4 534.8,264.2 535.3,261.7 535.9,277.0 536.4,269.2 537.0,279.5 537.5,279.1 538.1,269.6 538.6,273.3 539.1,278.1 539.7,283.5 540.2,272.4 540.8,272.7 541.3,278.3 541.9,277.0 542.4,262.5 543.0,271.0 543.5,264.6 544.1,261.6 544.6,267.4 545.2,251.6 545.7,280.8 546.3,265.4 546.8,276.0 547.4,255.5 547.9,256.9 548.5,291.5 549.0,282.2 549.6,266.7 550.1,265.5 550.7,266.0 551.2,273.7 551.8,268.7 552.3,266.8 552.9,273.7 553.4,263.3 554.0,294.3 554.5,267.0 555.1,282.8 555.6,263.9 556.2,275.2 556.7,281.4 557.3,269.5 557.8,281.6 558.4,281.6 558.9,287.8 559.5,273.3 560.0,268.3 560.6,263.3 561.1,274.3 561.7,263.1 562.2,272.8 562.8,286.6 563.3,267.6 563.9,263.0 564.4,276.2 565.0,275.3 565.5,274.5 566.1,272.2 566.6,281.5 567.2,263.3 567.7,276.8 568.3,268.6 568.8,280.8 569.4,269.6 569.9,269.3 570.5,277.0 571.0,253.9 571.6,269.5 572.1,274.1 572.7,263.9 573.2,310.0 573.8,278.8 574.3,268.9 574.9,272.4 575.4,272.5 576.0,275.7 576.5,290.1 577.1,275.1 577.6,293.9 578.2,269.5 578.7,279.9 579.3,279.8 579.8,275.1 580.4,270.4 580.9,286.5 581.5,261.0 582.0,283.1" fill="none" stroke="#0000c8" stroke-width="0.9" stroke-linejoin="bevel"/><g fill="#c0c0c0" shape-rendering="crispEdges"><rect x="19" y="20" width="563" height="1"/><rect x="19" y="80" width="563" height="1"/><rect x="19" y="140" width="563" height="1"/><rect x="19" y="200" width="563" height="1"/><rect x="19" y="260" width="563" height="1"/><rect x="19" y="320" width="563" height="1"/><rect x="19" y="380" width="563" height="1"/><rect x="19" y="440" width="563" height="1"/></g><g fill="#808080" shape-rendering="crispEdges"><rect x="18" y="20" width="2" height="421"/><rect x="70" y="20" width="1" height="421"/><rect x="121" y="20" width="1" height="421"/><rect x="172" y="20" width="1" height="421"/><rect x="224" y="20" width="1" height="421"/><rect x="274" y="20" width="2" height="421"/><rect x="326" y="20" width="1" height="421"/><rect x="377" y="20" width="1" height="421"/><rect x="428" y="20" width="1" height="421"/><rect x="479" y="20" width="1" height="421"/><rect x="530" y="20" width="2" height="421"/><rect x="582" y="20" width="1" height="421"/></g><g font-family="Liberation Sans, Arial, sans-serif" font-size="11" fill="#000" stroke="#000" stroke-width="0.1"><text x="19" y="16" text-anchor="middle">0</text><text x="19" y="452" text-anchor="middle">0</text><text x="70" y="16" text-anchor="middle">2</text><text x="70" y="452" text-anchor="middle">2</text><text x="121" y="16" text-anchor="middle">4</text><text x="121" y="452" text-anchor="middle">4</text><text x="172" y="16" text-anchor="middle">6</text><text x="172" y="452" text-anchor="middle">6</text><text x="224" y="16" text-anchor="middle">8</text><text x="224" y="452" text-anchor="middle">8</text><text x="275" y="16" text-anchor="middle">10</text><text x="275" y="452" text-anchor="middle">10</text><text x="326" y="16" text-anchor="middle">12</text><text x="326" y="452" text-anchor="middle">12</text><text x="377" y="16" text-anchor="middle">14</text><text x="377" y="452" text-anchor="middle">14</text><text x="428" y="16" text-anchor="middle">16</text><text x="428" y="452" text-anchor="middle">16</text><text x="479" y="16" text-anchor="middle">18</text><text x="479" y="452" text-anchor="middle">18</text><text x="531" y="16" text-anchor="middle">20</text><text x="531" y="452" text-anchor="middle">20</text><text x="582" y="16" text-anchor="middle">22</text><text x="582" y="452" text-anchor="middle">22</text><text x="585.5" y="24">0</text><text x="585.5" y="84">-20</text><text x="585.5" y="144">-40</text><text x="585.5" y="204">-60</text><text x="585.5" y="265">-80</text><text x="585.5" y="325">-100</text><text x="585.5" y="385">-120</text><text x="585.5" y="445">-140</text><text x="598.5" y="251">[dB]</text><text x="320.5" y="467">[kHz]</text><text x="10.5" y="473">created by Hub Audio Tools</text></g><g shape-rendering="crispEdges"><rect x="628" y="30" width="10" height="415" fill="#c0c0c0"/><rect x="644" y="31" width="10" height="414" fill="#c0c0c0"/><rect x="624.5" y="26.5" width="9" height="414" fill="#ff8080" stroke="#200000" stroke-width="1"/><rect x="640.5" y="27.5" width="9" height="413" fill="#8080ff" stroke="#000030" stroke-width="1"/></g></svg></body></html>
